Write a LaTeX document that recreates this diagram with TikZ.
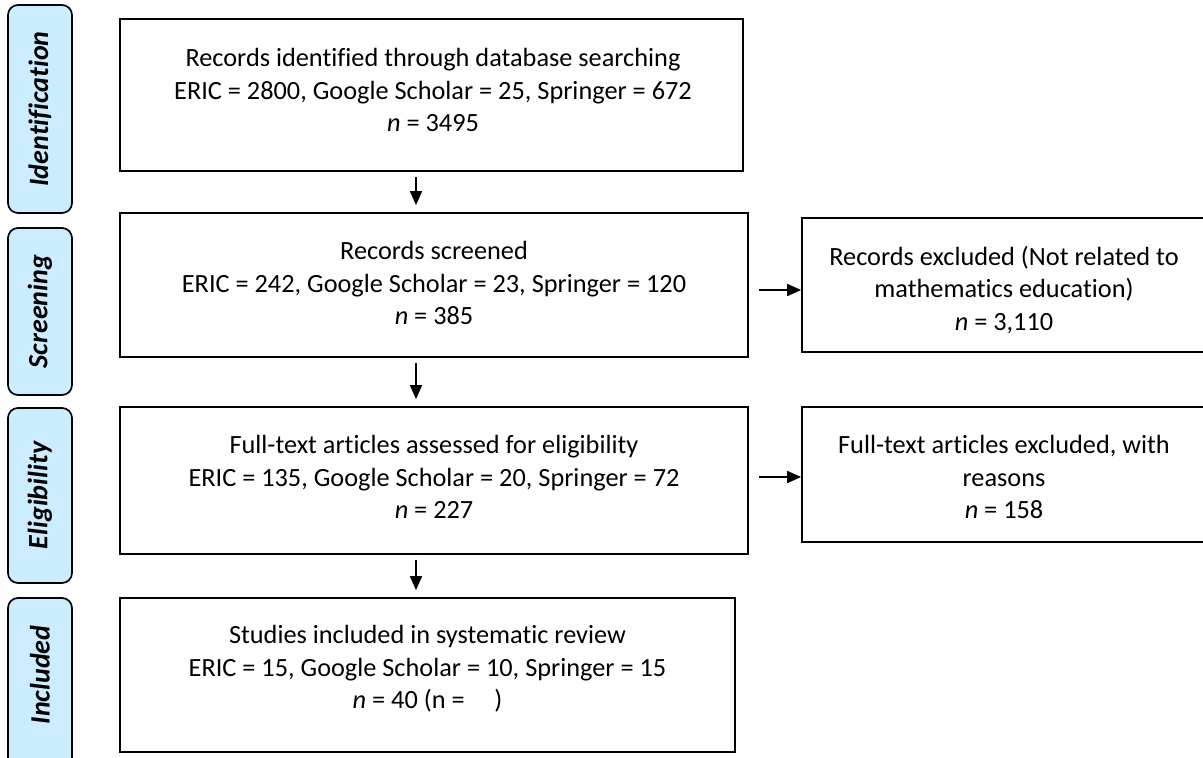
\documentclass[tikz,border=0pt]{standalone}
\usepackage{fontspec}
\setmainfont{Carlito}[Ligatures=NoCommon]
\usetikzlibrary{arrows.meta,calc}
\definecolor{lblue}{HTML}{CCECFF}
\tikzset{
  box/.style={draw=black, line width=1.7pt, inner sep=0pt},
  txt/.style={align=center, inner sep=0pt,
    font=\fontsize{26.3}{32.5}\selectfont},
  phase/.style={draw=black, line width=1.7pt, fill=lblue, rounded corners=10pt,
    inner sep=0pt},
  phtxt/.style={rotate=90, inner sep=0pt, font=\fontsize{28}{30}\selectfont\bfseries\itshape},
  arr/.style={line width=1.7pt, -{Triangle[length=14pt,width=12pt]}},
}
\begin{document}
\begin{tikzpicture}[x=1pt,y=-1pt]
\useasboundingbox (0,0) rectangle (1203,758);
\clip (0,0) rectangle (1203,758);
% phase labels
\node[phase, minimum width=64pt, minimum height=208pt] (pI) at (40,109) {};
\node[phtxt] (tI) at (pI.center) {Identification};
\node[phase, minimum width=64pt, minimum height=167pt] (pS) at (40,311.5) {};
\node[phtxt] (tS) at (pS.center) {Screening};
\node[phase, minimum width=64pt, minimum height=175pt] (pE) at (40,495.5) {};
\node[phtxt] (tE) at (pE.center) {Eligibility};
\node[phase, minimum width=64pt, minimum height=180pt] (pN) at (40,688) {};
\node[phtxt] (tN) at (40,675) {Included};
% main boxes
\node[box, minimum width=623pt, minimum height=152pt] (b1) at (431.5,95) {};
\node[txt] (t1) at (433,90) {Records identified through database searching\\ERIC = 2800, Google Scholar = 25, Springer = 672\\\textit{n} = 3495};
\node[box, minimum width=628pt, minimum height=144pt] (b2) at (434,285) {};
\node[txt] (t2) at (434,283) {Records screened\\ERIC = 242, Google Scholar = 23, Springer = 120\\\textit{n} = 385};
\node[box, minimum width=628pt, minimum height=147pt] (b3) at (434,480.5) {};
\node[txt] (t3) at (434,477) {Full-text articles assessed for eligibility\\ERIC = 135, Google Scholar = 20, Springer = 72\\\textit{n} = 227};
\node[box, minimum width=615pt, minimum height=154pt] (b4) at (427.5,675) {};
\node[txt] (t4) at (427.5,669) {Studies included in systematic review\\ERIC = 15, Google Scholar = 10, Springer = 15\\\textit{n} = 40 (n = \hspace{0.9em})};
% exclusion boxes
\node[box, minimum width=404pt, minimum height=134pt] (e1) at (1004,285) {};
\node[txt] (te1) at (1004,290) {Records excluded (Not related to\\mathematics education)\\\textit{n} = 3,110};
\node[box, minimum width=404pt, minimum height=135pt] (e2) at (1004,474.5) {};
\node[txt] (te2) at (1004,477) {Full-text articles excluded, with\\reasons\\\textit{n} = 158};
% arrows
\draw[arr] ([yshift=-5pt]b1.south -| 416,0) -- ([yshift=7pt]b2.north -| 416,0);
\draw[arr] ([yshift=-5pt]b2.south -| 416,0) -- ([yshift=7pt]b3.north -| 416,0);
\draw[arr] ([yshift=-5pt]b3.south -| 416,0) -- ([yshift=7pt]b4.north -| 416,0);
\draw[arr] ([xshift=10pt,yshift=-5pt]b2.east) -- ([yshift=-5pt]b2.east -| e1.west);
\draw[arr] ([xshift=10pt,yshift=3.5pt]b3.east) -- ([yshift=3.5pt]b3.east -| e2.west);
\end{tikzpicture}
\end{document}
